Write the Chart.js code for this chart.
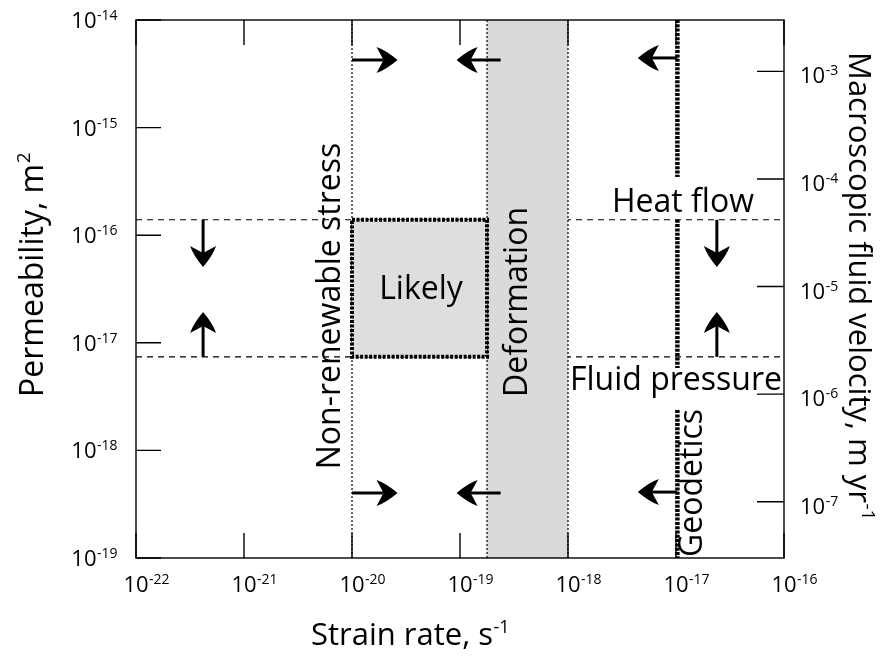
<!DOCTYPE html>
<html><head><meta charset="utf-8">
<script src="https://cdn.jsdelivr.net/npm/chart.js@4.4.0/dist/chart.umd.min.js"></script>
<style>html,body{margin:0;padding:0;background:#fff;}canvas{display:block;}</style>
</head><body>
<canvas id="c" width="881" height="657"></canvas>
<script>
// ---- axis ticks ----
const strainRateTicks = [1e-22, 1e-21, 1e-20, 1e-19, 1e-18, 1e-17, 1e-16];
const strainRateExponents = ['-22', '-21', '-20', '-19', '-18', '-17', '-16'];
const permeabilityTicks = [1e-19, 1e-18, 1e-17, 1e-16, 1e-15, 1e-14];
const permeabilityExponents = ['-19', '-18', '-17', '-16', '-15', '-14'];
const velocityTicks = [1e-7, 1e-6, 1e-5, 1e-4, 1e-3];
const velocityExponents = ['-7', '-6', '-5', '-4', '-3'];

const strainRateRange = [1e-22, 1e-16];
const permeabilityRange = [1e-19, 1e-14];
const velocityRange = [3.47e-8, 3.0e-3];

// ---- constraints ----
const nonRenewableStressRate = 1e-20;
const deformationBand = [1.78e-19, 1e-18];
const likelyRate = [1e-20, 1.78e-19];
const likelyPermeability = [7.4e-18, 1.39e-16];
const heatFlowPermeability = 1.39e-16;
const fluidPressurePermeability = 7.4e-18;
const geodeticsRate = 1.03e-17;
// permeability extents of the geodetics line pieces [top, bottom]
const geodeticsSegments = [[1e-14, 3.48e-16], [1.39e-16, 5.83e-18], [2.37e-18, 1e-19]];

// arrows: [tailRate, tailPerm, tipRate, tipPerm]
const arrows = [
  [1e-20, 4.25e-15, 2.64e-20, 4.25e-15],
  [2.38e-19, 4.25e-15, 9.3e-20, 4.25e-15],
  [1.03e-17, 4.44e-15, 4.43e-18, 4.44e-15],
  [1e-20, 4.02e-19, 2.64e-20, 4.02e-19],
  [2.38e-19, 4.02e-19, 9.3e-20, 4.02e-19],
  [1.03e-17, 4.1e-19, 4.43e-18, 4.1e-19],
  [4.18e-22, 1.39e-16, 4.18e-22, 5.06e-17],
  [4.18e-22, 7.4e-18, 4.18e-22, 1.93e-17],
  [2.39e-17, 1.39e-16, 2.39e-17, 5.06e-17],
  [2.39e-17, 7.4e-18, 2.39e-17, 1.93e-17]
];

const FONT = '"Open Sans", "Noto Sans", sans-serif';

function supText(ctx, base, sup, x, y, size, supSize, rise, align) {
  ctx.font = size + 'px ' + FONT;
  const w1 = ctx.measureText(base).width;
  ctx.font = supSize + 'px ' + FONT;
  const w2 = ctx.measureText(sup).width;
  let sx;
  if (align === 'center') sx = x - (w1 + w2) / 2;
  else if (align === 'baseCenter') sx = x - w1 / 2;
  else if (align === 'right') sx = x - w1 - w2;
  else sx = x;
  ctx.textAlign = 'left';
  ctx.textBaseline = 'alphabetic';
  ctx.font = size + 'px ' + FONT;
  ctx.fillText(base, sx, y);
  ctx.font = supSize + 'px ' + FONT;
  ctx.fillText(sup, sx + w1 + 0.5, y - rise);
}

function arrow(ctx, x0, y0, x1, y1) {
  const ang = Math.atan2(y1 - y0, x1 - x0);
  const len = Math.hypot(x1 - x0, y1 - y0);
  const L = 21, W = 13, N = 14;
  ctx.save();
  ctx.translate(x1, y1);
  ctx.rotate(ang);
  ctx.setLineDash([]);
  ctx.lineWidth = 3;
  ctx.beginPath(); ctx.moveTo(-len, 0); ctx.lineTo(-N, 0); ctx.stroke();
  ctx.beginPath();
  ctx.moveTo(0, 0);
  ctx.quadraticCurveTo(-L * 0.55, -W * 0.75, -L, -W);
  ctx.lineTo(-N, 0);
  ctx.lineTo(-L, W);
  ctx.quadraticCurveTo(-L * 0.55, W * 0.75, 0, 0);
  ctx.closePath();
  ctx.fill();
  ctx.restore();
}

function rotText(ctx, text, x, y, size, angle) {
  ctx.save();
  ctx.translate(x, y);
  ctx.rotate(angle);
  ctx.font = size + 'px ' + FONT;
  ctx.textAlign = 'center';
  ctx.textBaseline = 'middle';
  ctx.fillText(text, 0, 0);
  ctx.restore();
}

const drawPlugin = {
  id: 'diagram',
  afterDraw(chart) {
    const ctx = chart.ctx;
    const xs = chart.scales.x, ys = chart.scales.y, y2 = chart.scales.y2;
    const X = v => xs.getPixelForValue(v);
    const Y = v => ys.getPixelForValue(v);
    const Y2 = v => y2.getPixelForValue(v);
    const a = chart.chartArea;
    ctx.save();
    ctx.fillStyle = '#000';
    ctx.strokeStyle = '#000';

    // horizontal dashed thresholds
    ctx.lineWidth = 1.1;
    ctx.setLineDash([6, 5]);
    [heatFlowPermeability, fluidPressurePermeability].forEach(p => {
      ctx.beginPath(); ctx.moveTo(a.left, Y(p)); ctx.lineTo(a.right, Y(p)); ctx.stroke();
    });

    // non-renewable stress line
    ctx.lineWidth = 1.2;
    ctx.setLineDash([2, 2]);
    ctx.beginPath(); ctx.moveTo(X(nonRenewableStressRate), a.top); ctx.lineTo(X(nonRenewableStressRate), a.bottom); ctx.stroke();

    // deformation band
    ctx.fillStyle = '#dadada';
    ctx.fillRect(X(deformationBand[0]), a.top, X(deformationBand[1]) - X(deformationBand[0]), a.bottom - a.top);
    ctx.setLineDash([2, 2]);
    deformationBand.forEach(r => {
      ctx.beginPath(); ctx.moveTo(X(r), a.top); ctx.lineTo(X(r), a.bottom); ctx.stroke();
    });

    // likely box
    const bx0 = X(likelyRate[0]), bx1 = X(likelyRate[1]);
    const by0 = Y(likelyPermeability[1]), by1 = Y(likelyPermeability[0]);
    ctx.fillStyle = '#dedede';
    ctx.fillRect(bx0, by0, bx1 - bx0, by1 - by0);
    ctx.lineWidth = 4;
    ctx.setLineDash([3, 1.5]);
    ctx.strokeRect(bx0, by0, bx1 - bx0, by1 - by0);

    // geodetics / heat-flow thick dotted line
    ctx.lineWidth = 4.5;
    ctx.setLineDash([3, 1.3]);
    geodeticsSegments.forEach(s => {
      ctx.beginPath(); ctx.moveTo(X(geodeticsRate), Y(s[0])); ctx.lineTo(X(geodeticsRate), Y(s[1])); ctx.stroke();
    });

    // frame and ticks
    ctx.setLineDash([]);
    ctx.lineWidth = 1.4;
    ctx.strokeRect(a.left, a.top, a.right - a.left, a.bottom - a.top);
    ctx.beginPath();
    strainRateTicks.forEach(t => {
      const x = X(t);
      ctx.moveTo(x, a.bottom); ctx.lineTo(x, a.bottom - 25);
      ctx.moveTo(x, a.top); ctx.lineTo(x, a.top + 25);
    });
    permeabilityTicks.forEach(t => {
      const y = Y(t);
      ctx.moveTo(a.left, y); ctx.lineTo(a.left + 25, y);
    });
    velocityTicks.forEach(t => {
      const y = Y2(t);
      ctx.moveTo(a.right, y); ctx.lineTo(a.right - 27, y);
    });
    ctx.stroke();

    // arrows
    ctx.fillStyle = '#000';
    arrows.forEach(r => arrow(ctx, X(r[0]), Y(r[1]), X(r[2]), Y(r[3])));

    // tick labels
    ctx.fillStyle = '#000';
    strainRateTicks.forEach((t, i) => supText(ctx, '10', strainRateExponents[i], X(t), a.bottom + 34, 22, 14, 8, 'baseCenter'));
    permeabilityTicks.forEach((t, i) => supText(ctx, '10', permeabilityExponents[i], a.left - 19, Y(t) + 8, 22, 14, 8, 'right'));
    velocityTicks.forEach((t, i) => supText(ctx, '10', velocityExponents[i], a.right + 16, Y2(t) + 12, 22, 14, 8, 'left'));

    // axis titles
    supText(ctx, 'Strain rate, s', '-1', 410, 645, 31, 18, 12, 'center');
    ctx.save();
    ctx.translate(43, 275); ctx.rotate(-Math.PI / 2);
    supText(ctx, 'Permeability, m', '2', 0, 0, 32, 19, 13, 'center');
    ctx.restore();
    ctx.save();
    ctx.translate(849, 286); ctx.rotate(Math.PI / 2);
    supText(ctx, 'Macroscopic fluid velocity, m yr', '-1', 0, 0, 31, 19, 13, 'center');
    ctx.restore();

    // labels
    rotText(ctx, 'Non-renewable stress', 331, 306, 32, -Math.PI / 2);
    rotText(ctx, 'Deformation', 518, 302, 32, -Math.PI / 2);
    rotText(ctx, 'Geodetics', 693, 483, 32, -Math.PI / 2);
    ctx.font = '32px ' + FONT;
    ctx.textAlign = 'center'; ctx.textBaseline = 'middle';
    ctx.fillText('Likely', 421, 290);
    ctx.fillText('Heat flow', 683, 203);
    ctx.fillText('Fluid pressure', 676, 381);
    ctx.restore();
  }
};

new Chart(document.getElementById('c'), {
  type: 'scatter',
  data: { datasets: [] },
  options: {
    responsive: false,
    animation: false,
    layout: { padding: { left: 136, top: 20, right: 97, bottom: 99 } },
    plugins: { legend: { display: false }, tooltip: { enabled: false } },
    scales: {
      x: { type: 'logarithmic', min: strainRateRange[0], max: strainRateRange[1], display: false },
      y: { type: 'logarithmic', min: permeabilityRange[0], max: permeabilityRange[1], display: false },
      y2: { type: 'logarithmic', position: 'right', min: velocityRange[0], max: velocityRange[1], display: false }
    }
  },
  plugins: [drawPlugin]
});
</script>
</body></html>
